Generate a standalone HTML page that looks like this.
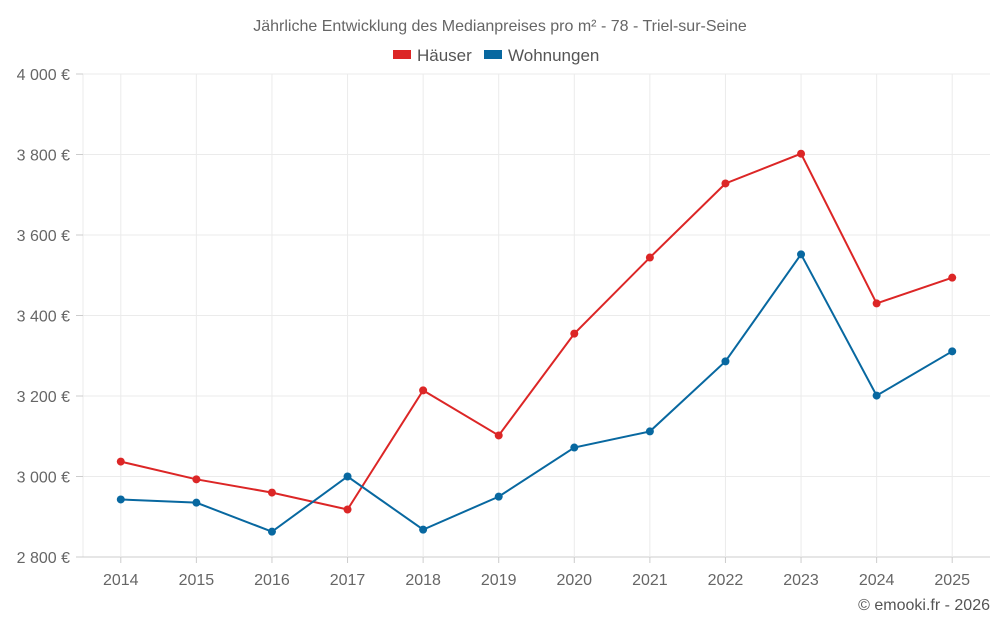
<!DOCTYPE html>
<html><head><meta charset="utf-8"><style>
body{margin:0;background:#fff;font-family:"Liberation Sans",sans-serif}
</style></head><body>
<svg id="c" width="1000" height="625" xmlns="http://www.w3.org/2000/svg"></svg>
<script>
const years=["2014","2015","2016","2017","2018","2019","2020","2021","2022","2023","2024","2025"];
const houses=[3037,2993,2960,2918,3214,3102,3355,3544,3728,3802,3430,3494];
const flats=[2943,2935,2863,3000,2868,2950,3072,3112,3286,3552,3201,3311];
const yTicks=[2800,3000,3200,3400,3600,3800,4000];
const yLabels=["2 800 €","3 000 €","3 200 €","3 400 €","3 600 €","3 800 €","4 000 €"];
const svg=document.getElementById('c');
const NS="http://www.w3.org/2000/svg";
const L=83,R=990,T=74,B=557;
const x=i=>L+(R-L)/years.length*(i+0.5);
const y=v=>B-(v-2800)/1200*(B-T);
function mk(tag,attrs,parent){const e=document.createElementNS(NS,tag);for(const k in attrs)e.setAttribute(k,attrs[k]);(parent||svg).appendChild(e);return e;}
// grid
mk('line',{x1:L,x2:L,y1:T,y2:B,stroke:'#ebebeb'});
yTicks.forEach((t,i)=>{
 const g=mk('line',{x1:L,x2:R,y1:y(t),y2:y(t),stroke:i==0?'#ccc':'#ebebeb'});
 
 
 mk('line',{x1:76,x2:L,y1:y(t),y2:y(t),stroke:'#ccc'});
 const tx=mk('text',{x:70,y:y(t)+6,'text-anchor':'end','font-size':16,fill:'#666'});
 tx.textContent=yLabels[i];
 
 
});
years.forEach((yr,i)=>{
 mk('line',{x1:x(i),x2:x(i),y1:T,y2:B,stroke:'#ebebeb'});
 mk('line',{x1:x(i),x2:x(i),y1:B,y2:B+6,stroke:'#ccc'});
 const tx=mk('text',{x:x(i),y:585,'text-anchor':'middle','font-size':16,fill:'#666'});
 tx.textContent=yr;
 
 
});
function series(vals,color,name){
 const p=mk('polyline',{points:vals.map((v,i)=>x(i)+','+y(v)).join(' '),fill:'none',stroke:color,'stroke-width':2});
 
 
 vals.forEach((v,i)=>{
  const c=mk('circle',{cx:x(i),cy:y(v),r:4,fill:color});
  
  
 });
}
series(houses,'#dc2626','houses');
series(flats,'#0868a0','flats');
const title=mk('text',{x:500,y:31,'text-anchor':'middle','font-size':16,fill:'#666'});
title.textContent='Jährliche Entwicklung des Medianpreises pro m² - 78 - Triel-sur-Seine';


const lg=[['Häuser','#dc2626',393],['Wohnungen','#0868a0',484]];
lg.forEach(([n,c,lx])=>{
 const r=mk('rect',{x:lx,y:50,width:18,height:9,fill:c});
 
 
 const t=mk('text',{x:lx+24,y:61,'font-size':17,fill:'#555'});
 t.textContent=n;
 
 
});
const cr=mk('text',{x:990,y:610,'text-anchor':'end','font-size':16,fill:'#555'});
cr.textContent='© emooki.fr - 2026';


</script>
</body></html>
